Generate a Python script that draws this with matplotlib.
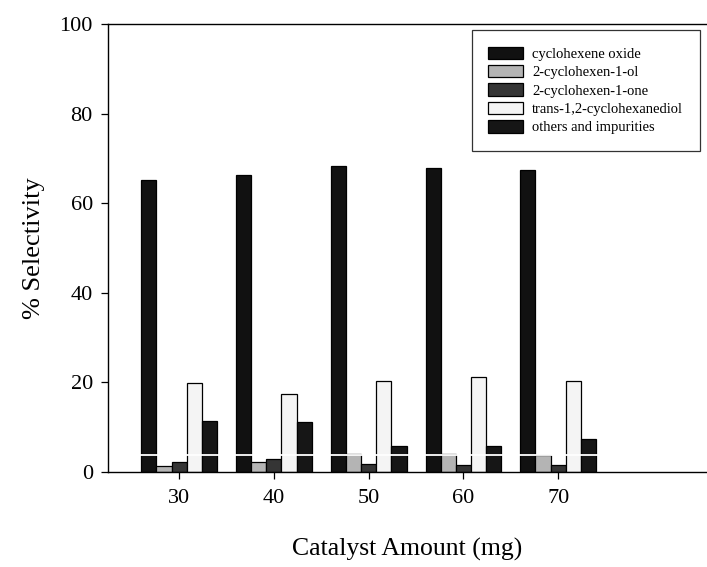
import numpy as np
import matplotlib
matplotlib.use("Agg")
import matplotlib.pyplot as plt

# ---------------------------
# Selectivity data (%)
# ---------------------------
catalyst_mg = [30, 40, 50, 60, 70]
series_names = [
    "cyclohexene oxide",
    "2-cyclohexen-1-ol",
    "2-cyclohexen-1-one",
    "trans-1,2-cyclohexanediol",
    "others and impurities",
]
epoxide = [65.2, 66.3, 68.2, 67.8, 67.3]
enol = [1.3, 2.3, 4.0, 3.9, 3.7]
enone = [2.3, 2.9, 1.8, 1.6, 1.6]
diol = [19.9, 17.4, 20.2, 21.3, 20.2]
others = [11.4, 11.2, 5.8, 5.7, 7.4]

series = [epoxide, enol, enone, diol, others]
colors = ["#111111", "#b4b4b4", "#353535", "#f4f4f4", "#161616"]

plt.rcParams["font.family"] = ["Liberation Serif", "DejaVu Serif"]

fig = plt.figure(figsize=(7.07, 5.67), dpi=100)
ax = fig.add_axes([0.1528, 0.1676, 0.8472, 0.7901])

x = np.array(catalyst_mg, dtype=float)
width = 1.6
offsets = (np.arange(len(series)) - 2) * width
for vals, off, col, name in zip(series, offsets, colors, series_names):
    ax.bar(x + off, vals, width=width, color=col, edgecolor="black",
           linewidth=0.9, label=name, zorder=2)

# thin white streak running across the lower part of the bars
ax.hlines(3.8, 24, 85.7, color="white", lw=1.3, zorder=3)

ax.set_xlim(22.5, 85.7)
ax.set_ylim(0, 100)
ax.set_xticks(catalyst_mg)
ax.set_yticks([0, 20, 40, 60, 80, 100])
ax.tick_params(axis="both", direction="out", labelsize=16, length=5, width=0.9)
ax.tick_params(axis="x", pad=7)
ax.tick_params(axis="y", pad=6)
ax.spines["right"].set_visible(False)
for s in ["left", "bottom", "top"]:
    ax.spines[s].set_linewidth(1.0)

ax.set_xlabel("Catalyst Amount (mg)", fontsize=18.5, labelpad=22)
ax.set_ylabel("% Selectivity", fontsize=19, labelpad=10)

leg = ax.legend(loc="upper right", bbox_to_anchor=(0.988, 0.987),
                borderaxespad=0, fontsize=10.5, frameon=True, fancybox=False,
                edgecolor="black", handlelength=2.4, handleheight=0.9,
                labelspacing=0.3, borderpad=1.15, handletextpad=0.6)
leg.get_frame().set_linewidth(0.9)

fig.savefig("out.png", dpi=100)
